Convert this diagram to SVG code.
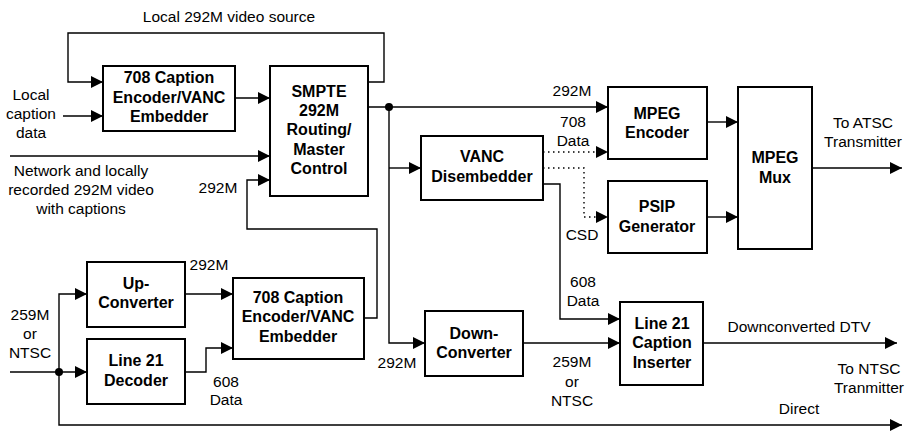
<svg xmlns="http://www.w3.org/2000/svg" width="906" height="431" viewBox="0 0 906 431">
<defs>
<marker id="arr" markerUnits="userSpaceOnUse" markerWidth="13" markerHeight="12" refX="12" refY="6" orient="auto">
<path d="M0,0 L12,6 L0,12 z" fill="#000"/>
</marker>
<style>
.box{fill:#fff;stroke:#000;stroke-width:2}
.b{font-family:"Liberation Sans",Arial,sans-serif;font-weight:bold;font-size:16px;text-anchor:middle;fill:#000}
.t{font-family:"Liberation Sans",Arial,sans-serif;font-size:15.5px;text-anchor:middle;fill:#000}
.c{fill:none;stroke:#000;stroke-width:1.4}
.a{marker-end:url(#arr)}
.d{stroke-dasharray:1.5,3.5}
</style>
</defs>
<rect width="906" height="431" fill="#fff"/>
<g id="connectors">
<path class="c a" d="M368,82 H384 V33 H68 V82 H103"/>
<path class="c a" d="M63,116 H103"/>
<path class="c a" d="M235,98 H270"/>
<path class="c a" d="M10,156 H270"/>
<path class="c a" d="M364,318 H377 V229 H247 V180 H270"/>
<path class="c a" d="M368,107 H608"/>
<path class="c a" d="M389,107 V343 H425"/>
<path class="c a" d="M389,168 H421"/>
<path class="c a d" d="M543,152 H608"/>
<path class="c a d" d="M543,168 H584 V217 H608"/>
<path class="c a" d="M543,184 H560 V319 H620"/>
<path class="c a" d="M707,122 H738"/>
<path class="c a" d="M707,217 H738"/>
<path class="c a" d="M812,168 H902"/>
<path class="c a" d="M523,343 H620"/>
<path class="c a" d="M703,343 H897"/>
<path class="c a" d="M10,372 H87"/>
<path class="c a" d="M59,372 V294 H87"/>
<path class="c a" d="M59,372 V425 H902"/>
<path class="c a" d="M185,294 H233"/>
<path class="c a" d="M185,372 H206 V348 H233"/>
<circle cx="389" cy="107" r="4"/>
<circle cx="59" cy="372" r="4"/>
</g>
<g id="labels">
<text class="t" x="229" y="22">Local 292M video source</text>
<text class="t" x="31" y="100">Local</text>
<text class="t" x="31" y="119">caption</text>
<text class="t" x="31" y="138">data</text>
<text class="t" x="81" y="176">Network and locally</text>
<text class="t" x="81" y="195">recorded 292M video</text>
<text class="t" x="81" y="214">with captions</text>
<text class="t" x="218" y="193">292M</text>
<text class="t" x="572" y="96">292M</text>
<text class="t" x="573" y="127">708</text>
<text class="t" x="573" y="146">Data</text>
<text class="t" x="582" y="240">CSD</text>
<text class="t" x="583" y="287">608</text>
<text class="t" x="583" y="306">Data</text>
<text class="t" x="863" y="128">To ATSC</text>
<text class="t" x="863" y="147">Transmitter</text>
<text class="t" x="209" y="270">292M</text>
<text class="t" x="30" y="320">259M</text>
<text class="t" x="30" y="339">or</text>
<text class="t" x="30" y="358">NTSC</text>
<text class="t" x="226" y="387">608</text>
<text class="t" x="226" y="405">Data</text>
<text class="t" x="397" y="368">292M</text>
<text class="t" x="572" y="367">259M</text>
<text class="t" x="572" y="387">or</text>
<text class="t" x="572" y="406">NTSC</text>
<text class="t" x="799" y="332">Downconverted DTV</text>
<text class="t" x="869" y="374">To NTSC</text>
<text class="t" x="869" y="393">Tranmitter</text>
<text class="t" x="799" y="414">Direct</text>
</g>
<g id="enc708a">
<rect class="box" x="103" y="66" width="132" height="65"/>
<text class="b" x="169" y="83">708 Caption</text>
<text class="b" x="169" y="103">Encoder/VANC</text>
<text class="b" x="169" y="122">Embedder</text>
</g>
<g id="smpte">
<rect class="box" x="270" y="66" width="98" height="130"/>
<text class="b" x="319" y="97">SMPTE</text>
<text class="b" x="319" y="116">292M</text>
<text class="b" x="319" y="135">Routing/</text>
<text class="b" x="319" y="155">Master</text>
<text class="b" x="319" y="174">Control</text>
</g>
<g id="vanc">
<rect class="box" x="421" y="136" width="122" height="64"/>
<text class="b" x="482" y="162">VANC</text>
<text class="b" x="482" y="182">Disembedder</text>
</g>
<g id="mpegenc">
<rect class="box" x="608" y="87" width="99" height="72"/>
<text class="b" x="657" y="119">MPEG</text>
<text class="b" x="657" y="138">Encoder</text>
</g>
<g id="psip">
<rect class="box" x="608" y="181" width="99" height="72"/>
<text class="b" x="657" y="212">PSIP</text>
<text class="b" x="657" y="232">Generator</text>
</g>
<g id="mux">
<rect class="box" x="738" y="87" width="74" height="162"/>
<text class="b" x="775" y="163">MPEG</text>
<text class="b" x="775" y="183">Mux</text>
</g>
<g id="upconv">
<rect class="box" x="87" y="262" width="98" height="65"/>
<text class="b" x="136" y="289">Up-</text>
<text class="b" x="136" y="308">Converter</text>
</g>
<g id="l21dec">
<rect class="box" x="87" y="339" width="98" height="65"/>
<text class="b" x="136" y="366">Line 21</text>
<text class="b" x="136" y="386">Decoder</text>
</g>
<g id="enc708b">
<rect class="box" x="233" y="278" width="131" height="81"/>
<text class="b" x="298" y="303">708 Caption</text>
<text class="b" x="298" y="322">Encoder/VANC</text>
<text class="b" x="298" y="342">Embedder</text>
</g>
<g id="downconv">
<rect class="box" x="425" y="311" width="98" height="65"/>
<text class="b" x="474" y="339">Down-</text>
<text class="b" x="474" y="358">Converter</text>
</g>
<g id="inserter">
<rect class="box" x="620" y="302" width="83" height="83"/>
<text class="b" x="662" y="329">Line 21</text>
<text class="b" x="662" y="348">Caption</text>
<text class="b" x="662" y="368">Inserter</text>
</g>
</svg>
